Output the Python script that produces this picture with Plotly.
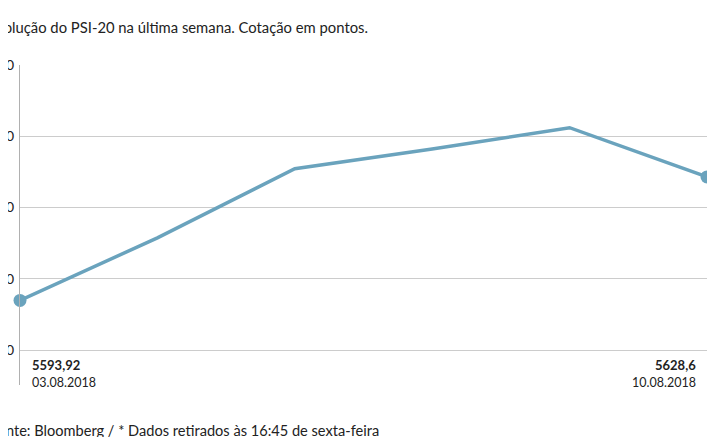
import plotly.graph_objects as go

dates = ["03.08.2018", "06.08.2018", "07.08.2018", "08.08.2018", "09.08.2018", "10.08.2018"]
values = [5593.92, 5611.5, 5630.9, 5636.4, 5642.4, 5628.6]
tick_vals = [5580, 5600, 5620, 5640, 5660]
tick_text = ["5580", "5600", "5620", "5640", "5660"]

title_text = "Evolução do PSI-20 na última semana. Cotação em pontos."
source_text = "Fonte: Bloomberg / * Dados retirados às 16:45 de sexta-feira"
first_label = "5593,92"
last_label = "5628,6"

FONT = "Lato"
LINE = "#6aa3bd"

fig = go.Figure()
fig.add_trace(go.Scatter(
    x=list(range(len(dates))), y=values, mode="lines",
    line=dict(color=LINE, width=3.5), hoverinfo="skip", showlegend=False,
    cliponaxis=False,
))
fig.add_trace(go.Scatter(
    x=[0, len(dates) - 1], y=[values[0], values[-1]], mode="markers",
    marker=dict(color=LINE, size=13), hoverinfo="skip", showlegend=False,
    cliponaxis=False,
))

PW = 687
fig.update_layout(
    width=707, height=429,
    margin=dict(l=12, r=8, t=57, b=52, autoexpand=False),
    paper_bgcolor="white", plot_bgcolor="white",
    font=dict(family=FONT, color="#222", size=13),
    xaxis=dict(range=[0, len(dates) - 1], showgrid=False, zeroline=False,
               showticklabels=False, showline=False, fixedrange=True,
               automargin=False),
    yaxis=dict(range=[5570.2, 5660], tickvals=tick_vals, ticktext=tick_text,
               showgrid=True, gridcolor="#cccccc", gridwidth=1,
               zeroline=False, showline=True, mirror=True, linecolor="#b0b0b0",
               linewidth=1, ticks="", ticklen=0, ticklabelstandoff=2,
               tickfont=dict(family=FONT, size=14, color="#222"),
               fixedrange=True, automargin=False),
    annotations=[
        dict(text=title_text, xref="paper", yref="paper", x=350 / PW, y=1,
             yshift=38, xanchor="right", yanchor="middle", showarrow=False,
             font=dict(family=FONT, size=14.8, color="#222")),
        dict(text=source_text, xref="paper", yref="paper", x=361 / PW, y=0,
             yshift=-45, xanchor="right", yanchor="middle", showarrow=False,
             font=dict(family=FONT, size=14.6, color="#222")),
        dict(text="<b>" + first_label + "</b>", xref="paper", yref="paper",
             x=10 / PW, y=0, yshift=20, xanchor="left", yanchor="middle",
             showarrow=False, font=dict(family=FONT, size=13, color="#222")),
        dict(text=dates[0], xref="paper", yref="paper",
             x=10 / PW, y=0, yshift=3, xanchor="left", yanchor="middle",
             showarrow=False, font=dict(family=FONT, size=12.5, color="#222")),
        dict(text="<b>" + last_label + "</b>", xref="paper", yref="paper",
             x=1 - 9 / PW, y=0, yshift=20, xanchor="right", yanchor="middle",
             showarrow=False, font=dict(family=FONT, size=13, color="#222")),
        dict(text=dates[-1], xref="paper", yref="paper",
             x=1 - 9 / PW, y=0, yshift=3, xanchor="right", yanchor="middle",
             showarrow=False, font=dict(family=FONT, size=12.5, color="#222")),
    ],
)

fig.write_html("out.html", config={"displayModeBar": False})
